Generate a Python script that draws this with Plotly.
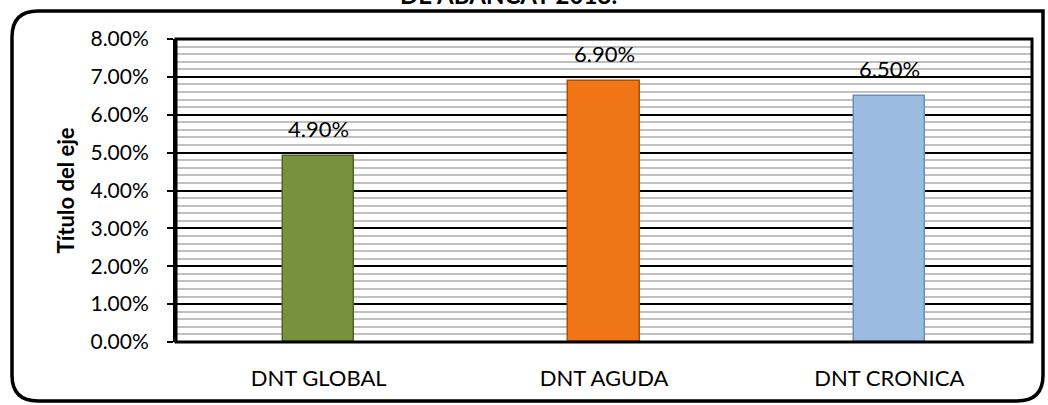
import plotly.graph_objects as go

categories = ["DNT GLOBAL", "DNT AGUDA", "DNT CRONICA"]
values = [0.049, 0.069, 0.065]
bar_colors = ["#76923c", "#f07514", "#9bbbe0"]
edge_colors = ["#4f6228", "#a84f08", "#6a8dbb"]
y_ticks = [0.0, 0.01, 0.02, 0.03, 0.04, 0.05, 0.06, 0.07, 0.08]
title_text = "DE ABANCAY 2018:"
y_title = "Título del eje"

FONT = "Lato, 'Open Sans', sans-serif"

fig = go.Figure()
fig.add_trace(go.Bar(
    x=categories, y=values, width=0.25,
    marker=dict(color=bar_colors, line=dict(color=edge_colors, width=1.5)),
    hoverinfo="skip",
))

for c, v in zip(categories, values):
    fig.add_annotation(x=c, y=v, text=f"{v*100:.2f}%", showarrow=False,
                       yanchor="bottom", yshift=12,
                       font=dict(family=FONT, size=22, color="#000"))

fig.add_annotation(xref="paper", yref="paper", x=0.388, y=1.094, text=f"<b>{title_text}</b>",
                   showarrow=False, yanchor="bottom", font=dict(family=FONT, size=24, color="#000"))

# plot-area border
fig.add_shape(type="rect", xref="paper", yref="paper", x0=0, x1=1, y0=0, y1=1,
              line=dict(color="#000", width=3), layer="above")

# outer rounded border
W, H = 1048, 405
l, r, t, b = 176, 16, 39, 63
pw, ph = W - l - r, H - t - b
def px_to_paper_x(px):
    return (px - l) / pw
def py_to_paper_y(py):
    return (H - b - py) / ph
x0, x1 = px_to_paper_x(12), px_to_paper_x(1043)
y0, y1 = py_to_paper_y(401), py_to_paper_y(11)
rx = 26 / pw
ry = 26 / ph
path = (f"M {x0+rx},{y1} L {x1},{y1} L {x1},{y0+ry} Q {x1},{y0} {x1-rx},{y0} "
        f"L {x0+rx},{y0} Q {x0},{y0} {x0},{y0+ry} L {x0},{y1-ry} Q {x0},{y1} {x0+rx},{y1} Z")
fig.add_shape(type="path", xref="paper", yref="paper", path=path,
              line=dict(color="#000", width=3.5), layer="above")

fig.update_layout(
    width=W, height=H,
    margin=dict(l=l, r=r, t=t, b=b),
    paper_bgcolor="white", plot_bgcolor="white",
    showlegend=False, bargap=0,
    font=dict(family=FONT, size=21, color="#000"),
    xaxis=dict(showgrid=False, showline=False, ticks="", ticklabelstandoff=21,
               tickfont=dict(size=22)),
    yaxis=dict(range=[0, 0.08], tickvals=y_ticks, tickformat=".2%",
               showgrid=True, gridcolor="#000", gridwidth=1.5,
               minor=dict(dtick=0.002, showgrid=True, gridcolor="#c0c0c0", gridwidth=2),
               ticks="outside", ticklen=6, tickcolor="#000", tickwidth=1.5,
               ticklabelstandoff=14, tickfont=dict(size=21),
               showline=True, linecolor="#000", linewidth=3, zeroline=False,
               title=dict(text=f"<b>{y_title}</b>", standoff=10, font=dict(size=22))),
)

fig.write_html("out.html", config={"displayModeBar": False},
               post_script="document.body.style.margin='0';document.body.style.overflow='hidden';")
